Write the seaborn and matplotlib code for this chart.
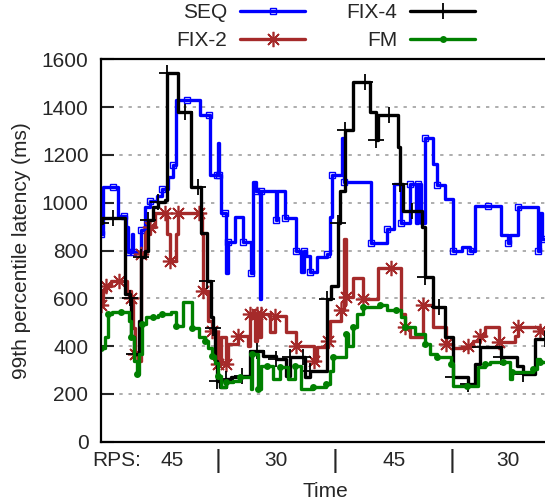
import matplotlib
matplotlib.use("Agg")
import matplotlib.pyplot as plt
import seaborn as sns

# time axis is in plot steps (4 phases of 117 steps each), latency in ms
seq_t = [0, 2, 12, 17, 23, 25, 27, 31, 32, 36, 40, 44, 49, 56, 61, 67, 72, 75, 86, 99,
         108, 109, 116, 117, 118, 120, 124, 125, 127, 134, 142, 149, 150, 152, 155, 159,
         160, 170, 175, 176, 184, 190, 195, 200, 203, 205, 209, 216, 226, 229, 231, 241,
         243, 256, 270, 280, 286, 293, 300, 303, 309, 315, 317, 320, 324, 332, 336, 344,
         352, 361, 369, 374, 387, 400, 407, 409, 417, 430, 437, 439, 441, 444]
seq_ms = [870, 1065, 1065, 946, 946, 900, 793, 870, 793, 793, 884, 981, 1009, 1030, 1059,
          1107, 1156, 1428, 1428, 1365, 1365, 1114, 1114, 1248, 1114, 955, 955, 704, 835,
          940, 835, 835, 704, 1086, 1051, 599, 1051, 1051, 926, 1051, 934, 934, 800, 709,
          800, 779, 709, 772, 787, 940, 1114, 1269, 1086, 1086, 830, 830, 892, 1080, 913,
          913, 1080, 913, 1080, 913, 1269, 1164, 1072, 1017, 800, 815, 800, 988, 988, 863,
          830, 863, 981, 981, 800, 955, 850, 850]

fix2_t = [0, 2, 5, 10, 18, 26, 30, 32, 34, 37, 40, 44, 49, 54, 64, 66, 69, 75, 77, 88, 98,
          101, 102, 107, 111, 113, 117, 120, 125, 127, 137, 147, 149, 154, 156, 158, 160,
          169, 174, 185, 195, 205, 213, 216, 227, 229, 240, 243, 245, 252, 262, 277, 290,
          300, 304, 309, 322, 332, 345, 352, 367, 372, 379, 384, 398, 414, 417, 430, 439, 444]
fix2_ms = [570, 632, 650, 674, 674, 632, 600, 477, 369, 339, 787, 871, 900, 955, 955, 871,
           758, 871, 955, 955, 955, 871, 632, 507, 465, 458, 327, 436, 327, 410, 444, 402,
           536, 420, 536, 440, 536, 458, 528, 458, 402, 402, 339, 395, 423, 507, 549, 850,
           604, 683, 599, 725, 725, 536, 479, 436, 570, 479, 410, 390, 402, 423, 444, 479,
           416, 444, 479, 479, 465, 458]

fix4_t = [0, 1, 12, 24, 29, 30, 33, 38, 40, 44, 47, 52, 57, 64, 66, 77, 84, 90, 97, 100,
          106, 110, 112, 114, 116, 119, 125, 130, 141, 149, 156, 162, 175, 185, 189, 196,
          202, 204, 209, 217, 226, 230, 237, 239, 244, 252, 264, 269, 275, 277, 288, 297,
          299, 302, 311, 321, 324, 332, 338, 344, 352, 360, 367, 374, 379, 390, 400, 416,
          422, 434, 444]
fix4_ms = [913, 934, 934, 620, 600, 436, 369, 507, 771, 800, 926, 980, 1001, 1010, 1541,
           1378, 1378, 1064, 1064, 875, 674, 520, 477, 339, 255, 228, 263, 270, 276, 381,
           381, 360, 348, 276, 355, 355, 355, 270, 297, 297, 599, 653, 913, 1051, 1303,
           1505, 1505, 1379, 1261, 1365, 1365, 1233, 1080, 967, 967, 898, 688, 563, 563,
           436, 269, 269, 243, 327, 395, 395, 353, 318, 285, 431, 431]

fm_t = [0, 4, 7, 11, 20, 28, 30, 33, 36, 38, 41, 45, 52, 57, 61, 70, 75, 82, 91, 98, 104,
        107, 111, 114, 117, 120, 125, 132, 139, 150, 151, 155, 157, 160, 166, 172, 179, 187,
        194, 200, 212, 224, 225, 229, 232, 240, 245, 247, 252, 256, 262, 272, 279, 286, 295,
        300, 304, 314, 324, 329, 336, 345, 350, 352, 366, 377, 384, 389, 402, 409, 411, 422,
        432, 436, 439, 444]
fm_ms = [394, 436, 536, 541, 541, 507, 436, 339, 285, 369, 494, 521, 521, 530, 536, 541,
         486, 583, 477, 436, 420, 394, 360, 331, 276, 228, 249, 255, 269, 222, 369, 369, 222,
         318, 318, 263, 311, 263, 318, 222, 228, 228, 243, 297, 353, 353, 452, 402, 479, 536,
         563, 563, 570, 549, 549, 521, 479, 452, 410, 369, 353, 353, 327, 232, 232, 311, 325,
         332, 332, 263, 290, 290, 306, 348, 332, 332]

phase_pos = [16, 71, 117, 175, 234, 293, 351, 407]
phase_labels = ["RPS:", "45", "|", "30", "|", "45", "|", "30"]
y_ticks = [0, 200, 400, 600, 800, 1000, 1200, 1400, 1600]

sns.set_style("ticks")
plt.rcParams["font.family"] = ["Liberation Sans", "DejaVu Sans"]
plt.rcParams["font.size"] = 15

fig = plt.figure(figsize=(5.45, 4.99), dpi=100)
ax = fig.add_axes([101 / 545, 1 - 441.7 / 499, 468 / 545, 382.4 / 499])

common = dict(ax=ax, drawstyle="steps-post", estimator=None, sort=False, lw=2.4,
              markevery=2)
sns.lineplot(x=seq_t, y=seq_ms, color="#0000ff", marker="s", ms=5, mfc="none",
             mec="#0000ff", mew=1, label="SEQ", **common)
sns.lineplot(x=fix2_t, y=fix2_ms, color="#a52a2a", marker=(8, 2, 0), ms=11,
             mec="#a52a2a", mew=1.2, label="FIX-2", **common)
sns.lineplot(x=fix4_t, y=fix4_ms, color="black", marker="+", ms=11, mec="black",
             mew=1.3, label="FIX-4", **common)
sns.lineplot(x=fm_t, y=fm_ms, color="#008000", marker="o", ms=5, mfc="#008000",
             mec="#008000", mew=0, label="FM", **common)

ax.set_xlim(0, 468)
ax.set_ylim(0, 1600)
ax.set_yticks(y_ticks)
ax.set_xticks([])
ax.tick_params(axis="y", direction="in", length=9, width=1.5, pad=9, labelsize=15)
for y in y_ticks[1:-1]:
    ax.axhline(y, color="#a0a0a0", lw=1.2, ls=(0, (2, 3.5)), zorder=0)
for side in ["left", "bottom", "top", "right"]:
    ax.spines[side].set_linewidth(1.6)
    ax.spines[side].set_color("black")

# phase annotations under the x axis
for pos, lab in zip(phase_pos, phase_labels):
    ax.text(pos, -0.0497, lab, transform=ax.get_xaxis_transform(), ha="center",
            va="center", fontsize=19 if lab == "|" else 15)

ax.set_xlabel("Time", fontsize=15)
ax.xaxis.set_label_coords(0.479, -0.129)
ax.xaxis.label.set_va("center")
ax.set_ylabel("99th percentile latency (ms)", fontsize=15)
ax.yaxis.set_label_coords(-0.169, 0.5)
ax.yaxis.label.set_va("center")

handles, labels = ax.get_legend_handles_labels()
ax.legend(handles, labels, ncol=2, markerfirst=False, frameon=False,
          loc="upper right", bbox_to_anchor=(475 / 545, 1 - 3 / 499),
          bbox_transform=fig.transFigure, borderpad=0, borderaxespad=0,
          handlelength=3.1, handletextpad=0.62, columnspacing=2.0, labelspacing=0.45,
          fontsize=15)

fig.savefig("out.png", dpi=100)
